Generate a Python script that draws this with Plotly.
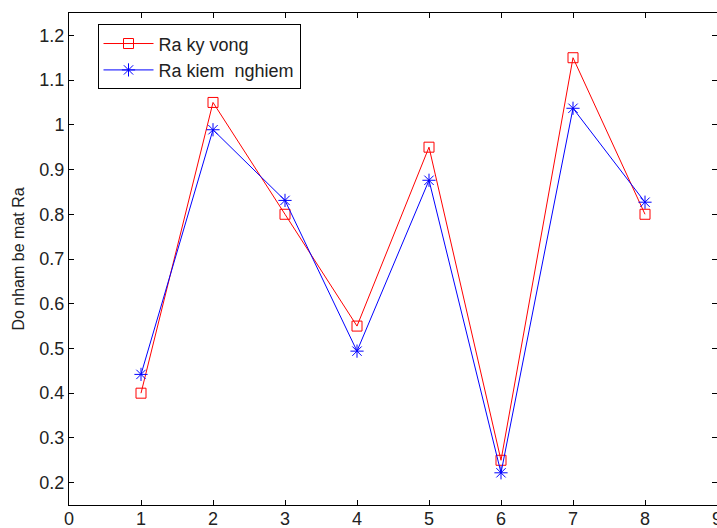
import plotly.graph_objects as go

x_vals = [1, 2, 3, 4, 5, 6, 7, 8]
ra_ky_vong = [0.40, 1.05, 0.80, 0.55, 0.95, 0.25, 1.15, 0.80]
ra_kiem_nghiem = [0.442, 0.989, 0.831, 0.494, 0.876, 0.222, 1.037, 0.827]
y_ticks = [0.2, 0.3, 0.4, 0.5, 0.6, 0.7, 0.8, 0.9, 1.0, 1.1, 1.2]
y_tick_text = ["0.2", "0.3", "0.4", "0.5", "0.6", "0.7", "0.8", "0.9", "1", "1.1", "1.2"]
x_ticks = [0, 1, 2, 3, 4, 5, 6, 7, 8, 9]

fig = go.Figure()
fig.add_trace(go.Scatter(
    x=x_vals, y=ra_ky_vong, name="Ra ky vong", mode="lines+markers",
    line=dict(color="#FF0000", width=1),
    marker=dict(symbol="square-open", size=10, color="#FF0000", line=dict(width=1, color="#FF0000")),
))
fig.add_trace(go.Scatter(
    x=x_vals, y=ra_kiem_nghiem, name="Ra kiem  nghiem", mode="lines+markers",
    line=dict(color="#0000FF", width=1),
    marker=dict(symbol="asterisk-open", size=11, color="#0000FF", line=dict(width=1, color="#0000FF")),
))

axis_common = dict(
    showgrid=False, zeroline=False, showline=True, linecolor="black", linewidth=1,
    mirror="ticks", ticks="inside", ticklen=5, tickcolor="black", tickwidth=1,
    tickfont=dict(family="Liberation Sans, Arial", size=18, color="#222222"),
    ticklabeloverflow="allow", automargin=False,
)

fig.update_layout(
    width=717, height=528,
    margin=dict(l=69, r=0, t=13, b=23),
    paper_bgcolor="white", plot_bgcolor="white",
    font=dict(family="Liberation Sans, Arial", color="#222222"),
    showlegend=True,
    legend=dict(
        x=0.044, y=0.977, xanchor="left", yanchor="top",
        bgcolor="white", bordercolor="black", borderwidth=1,
        font=dict(size=18, color="#222222"),
        itemwidth=50,
        tracegroupgap=0,
    ),
    xaxis=dict(range=[0, 9], tickvals=x_ticks, ticklabelstandoff=-3, **axis_common),
    yaxis=dict(
        range=[0.15, 1.25], tickvals=y_ticks, ticktext=y_tick_text,
        title=dict(text="Do nham be mat Ra", font=dict(size=16, color="#222222"), standoff=10),
        **axis_common,
    ),
)

fig.write_html("out.html")
